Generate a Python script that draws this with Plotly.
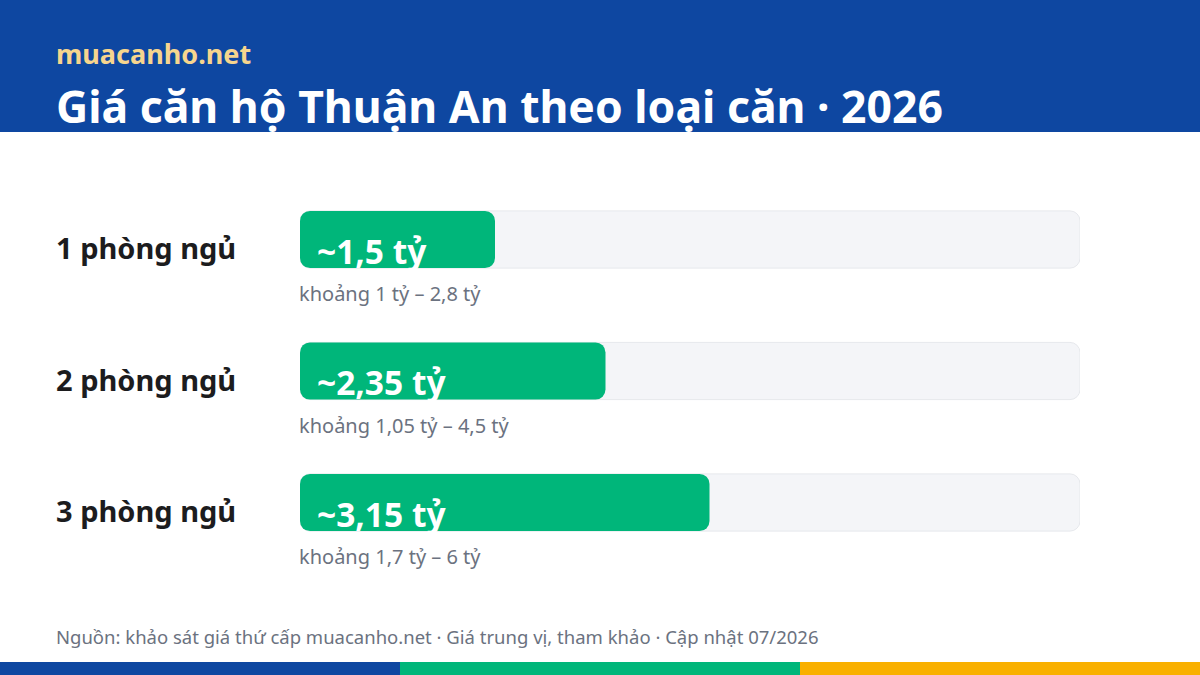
import plotly.graph_objects as go

categories = ["1 phòng ngủ", "2 phòng ngủ", "3 phòng ngủ"]
median_price = [1.5, 2.35, 3.15]
low_price = ["1", "1,05", "1,7"]
high_price = ["2,8", "4,5", "6"]
value_labels = ["~1,5 tỷ", "~2,35 tỷ", "~3,15 tỷ"]
scale_max = 6

W, H = 1200, 675
FONT = "Noto Sans"
BLUE = "#0E47A1"
GREEN = "#00B67A"
YELLOW = "#F9B000"
BAR_W = 0.435


def rounded_bar(values, color, line):
    # explicit base -> plotly rounds all four corners
    return go.Bar(
        y=categories, x=values, base=[0] * len(values), orientation="h",
        marker=dict(color=color, line=line, cornerradius=10),
        width=BAR_W, hoverinfo="skip", showlegend=False,
    )


fig = go.Figure()
fig.add_trace(rounded_bar([scale_max] * len(categories), "#F4F5F8", dict(color="#E6E8EC", width=1)))
fig.add_trace(rounded_bar(median_price, GREEN, dict(width=0)))

ann = []
for cat, lab, lo, hi in zip(categories, value_labels, low_price, high_price):
    ann.append(dict(x=0, y=cat, xref="x", yref="y", text=f"<b>{lab}</b>", showarrow=False,
                    xanchor="left", yanchor="middle", xshift=15, yshift=-11,
                    font=dict(family=FONT, size=33.5, color="white")))
    ann.append(dict(x=0, y=cat, xref="x", yref="y", text=f"khoảng {lo} tỷ – {hi} tỷ", showarrow=False,
                    xanchor="left", yanchor="middle", xshift=-3, yshift=-54,
                    font=dict(family=FONT, size=20, color="#6B7280")))
    ann.append(dict(x=57 / W, y=cat, xref="paper", yref="y", text=f"<b>{cat}</b>", showarrow=False,
                    xanchor="left", yanchor="middle", xshift=-3, yshift=-8,
                    font=dict(family=FONT, size=29, color="#1C1C1E")))

ann.append(dict(x=57 / W, y=1 - 53 / H, xref="paper", yref="paper", text="<b>muacanho.net</b>",
                showarrow=False, xanchor="left", yanchor="middle", xshift=-3,
                font=dict(family=FONT, size=27, color="#F6D58E")))
ann.append(dict(x=57 / W, y=1 - 105 / H, xref="paper", yref="paper",
                text="<b>Giá căn hộ Thuận An theo loại căn · 2026</b>",
                showarrow=False, xanchor="left", yanchor="middle", xshift=-3,
                font=dict(family=FONT, size=44.5, color="white")))
ann.append(dict(x=57 / W, y=1 - 636 / H, xref="paper", yref="paper",
                text="Nguồn: khảo sát giá thứ cấp muacanho.net · Giá trung vị, tham khảo · Cập nhật 07/2026",
                showarrow=False, xanchor="left", yanchor="middle", xshift=-3,
                font=dict(family=FONT, size=18.5, color="#6B7280")))

shapes = [
    dict(type="rect", xref="paper", yref="paper", x0=0, x1=1, y0=1 - 132 / H, y1=1,
         fillcolor=BLUE, line=dict(width=0), layer="below"),
    dict(type="rect", xref="paper", yref="paper", x0=0, x1=1 / 3, y0=0, y1=13 / H,
         fillcolor=BLUE, line=dict(width=0)),
    dict(type="rect", xref="paper", yref="paper", x0=1 / 3, x1=2 / 3, y0=0, y1=13 / H,
         fillcolor=GREEN, line=dict(width=0)),
    dict(type="rect", xref="paper", yref="paper", x0=2 / 3, x1=1, y0=0, y1=13 / H,
         fillcolor=YELLOW, line=dict(width=0)),
]

y_top_px, y_bot_px = 173.75, 568.25
fig.update_layout(
    width=W, height=H, margin=dict(l=0, r=0, t=0, b=0),
    paper_bgcolor="white", plot_bgcolor="white",
    barmode="overlay", showlegend=False,
    xaxis=dict(domain=[300 / W, 1080 / W], range=[0, scale_max], visible=False, fixedrange=True),
    yaxis=dict(domain=[1 - y_bot_px / H, 1 - y_top_px / H], type="category",
               categoryorder="array", categoryarray=categories,
               range=[len(categories) - 0.5, -0.5], visible=False, fixedrange=True),
    annotations=ann, shapes=shapes,
)

fig.write_html("out.html", config={"displayModeBar": False},
               post_script="document.body.style.margin='0';document.body.style.padding='0';")
